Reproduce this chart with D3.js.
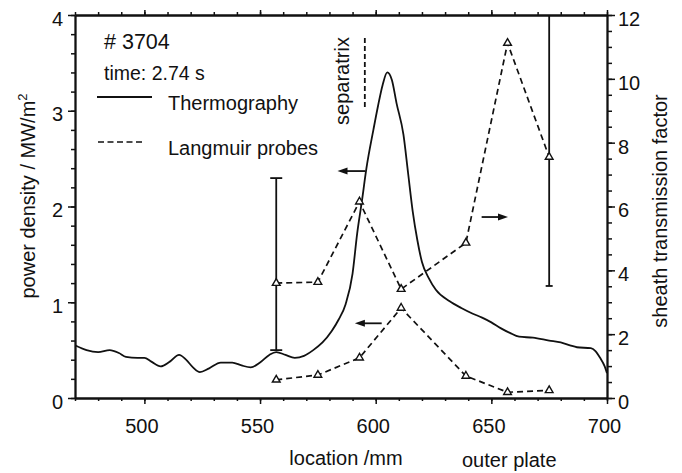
<!DOCTYPE html>
<html>
<head>
<meta charset="utf-8">
<script src="https://cdn.jsdelivr.net/npm/d3@7"></script>
<style>
  html, body { margin: 0; padding: 0; background: #fff; }
  svg { display: block; }
  text { font-family: "Liberation Sans", Arial, Helvetica, sans-serif; fill: #111; }
</style>
</head>
<body>
<svg id="chart" width="682" height="473"></svg>
<script>
// ---------- data ----------
const xTicks = [500, 550, 600, 650, 700];
const leftTicks = [0, 1, 2, 3, 4];
const rightTicks = [0, 2, 4, 6, 8, 10, 12];

// Thermography (power density, MW/m^2) vs location (mm)
const thermoLocation = [470,475,480,485,489,492,497,500,503,507,511,515,518,521,524,528,533,538,542,546,550,554,557,561,565,569,573,577,581,584,587,590,592,594,596,599,601,603,605,607,609,612,614,616,618,620,623,626,632,637,642,646,650,654,658,662,668,675,680,684,687,693,695,697,699,700];
const thermoPower    = [0.55,0.50,0.48,0.50,0.47,0.43,0.42,0.42,0.38,0.33,0.38,0.45,0.40,0.32,0.27,0.31,0.37,0.37,0.34,0.32,0.37,0.45,0.48,0.45,0.42,0.44,0.50,0.58,0.70,0.82,0.98,1.30,1.72,2.05,2.40,2.80,3.05,3.27,3.40,3.32,3.08,2.75,2.35,1.95,1.65,1.42,1.25,1.13,1.01,0.94,0.88,0.84,0.79,0.73,0.68,0.64,0.63,0.60,0.58,0.55,0.53,0.52,0.49,0.42,0.33,0.26];

// Langmuir probes
const probeLocation = [557, 575, 593, 611, 639, 657, 675];
const probePower    = [0.19, 0.24, 0.42, 0.94, 0.23, 0.06, 0.08];   // left axis
const probeSheath   = [3.60, 3.63, 6.15, 3.41, 4.86, 11.12, 7.55];  // right axis

// error bars (sheath transmission factor, right axis)
const errLocation = [557, 675];
const errLow      = [1.50, 3.51];
const errHigh     = [6.89, 12];
const errCapped   = [true, false];

// annotations
const separatrixLocation = 595.3;
const separatrixRange = [3.04, 3.79];   // left axis units
const arrowStart = [595.5, 602.6, 645.8];
const arrowEnd   = [583.5, 591.0, 657.2];
const arrowLevel = [2.37, 0.78, 5.67];
const arrowAxis  = ["left", "left", "right"];

// ---------- layout ----------
const svg = d3.select("#chart");
const L = 75, R = 607, T = 15, B = 398;

const x = d3.scaleLinear().domain([470, 700]).range([L, R]);
const yL = d3.scaleLinear().domain([0, 4]).range([B, T]);
const yR = d3.scaleLinear().domain([0, 12]).range([B, T]);

const FS = 20;
const INK = "#111";
const SW = 1.8;

function styleAxis(g) {
  g.selectAll(".domain").attr("stroke", INK).attr("stroke-width", SW);
  g.selectAll(".tick line").attr("stroke", INK).attr("stroke-width", 1.5);
  g.selectAll(".tick text").attr("font-size", FS).attr("fill", INK)
    .attr("font-family", '"Liberation Sans", Arial, sans-serif');
}

const xMinor = d3.range(470, 701, 10);
const lMinor = d3.range(0, 4.01, 0.2);
const rMinor = d3.range(0, 12.01, 0.5);

// bottom axis
svg.append("g").attr("transform", `translate(0,${B})`)
  .call(d3.axisBottom(x).tickValues(xMinor).tickSize(3).tickSizeOuter(0).tickFormat(""))
  .call(styleAxis);
svg.append("g").attr("transform", `translate(0,${B})`)
  .call(d3.axisBottom(x).tickValues(xTicks).tickSize(6).tickSizeOuter(0).tickPadding(15).tickFormat(d3.format("d")))
  .call(styleAxis)
  .call(g => g.selectAll(".tick text").attr("dx", -3));

// top axis
svg.append("g").attr("transform", `translate(0,${T})`)
  .call(d3.axisTop(x).tickValues(xMinor).tickSize(3).tickSizeOuter(0).tickFormat(""))
  .call(styleAxis);
svg.append("g").attr("transform", `translate(0,${T})`)
  .call(d3.axisTop(x).tickValues(xTicks).tickSize(5).tickSizeOuter(0).tickFormat(""))
  .call(styleAxis);

// left axis
svg.append("g").attr("transform", `translate(${L},0)`)
  .call(d3.axisLeft(yL).tickValues(lMinor).tickSize(4).tickSizeOuter(0).tickFormat(""))
  .call(styleAxis);
svg.append("g").attr("transform", `translate(${L},0)`)
  .call(d3.axisLeft(yL).tickValues(leftTicks).tickSize(7).tickSizeOuter(0).tickPadding(5).tickFormat(d3.format("d")))
  .call(styleAxis)
  .call(g => g.selectAll(".tick text").attr("dy", "0.5em"));

// right axis
svg.append("g").attr("transform", `translate(${R},0)`)
  .call(d3.axisRight(yR).tickValues(rMinor).tickSize(5).tickSizeOuter(0).tickFormat(""))
  .call(styleAxis);
svg.append("g").attr("transform", `translate(${R},0)`)
  .call(d3.axisRight(yR).tickValues(rightTicks).tickSize(8).tickSizeOuter(0).tickPadding(3).tickFormat(d3.format("d")))
  .call(styleAxis)
  .call(g => g.selectAll(".tick text").attr("dy", "0.52em"));

// ---------- clip ----------
svg.append("clipPath").attr("id", "plotclip")
  .append("rect").attr("x", L).attr("y", T).attr("width", R - L).attr("height", B - T);
const plot = svg.append("g").attr("clip-path", "url(#plotclip)");

// thermography curve
const thermo = thermoLocation.map((d, i) => [d, thermoPower[i]]);
plot.append("path")
  .datum(thermo)
  .attr("fill", "none").attr("stroke", INK).attr("stroke-width", SW)
  .attr("d", d3.line().x(d => x(d[0])).y(d => yL(d[1])).curve(d3.curveMonotoneX));

// error bars
errLocation.forEach((loc, i) => {
  const cx = x(loc);
  plot.append("line").attr("x1", cx).attr("x2", cx)
    .attr("y1", yR(errLow[i])).attr("y2", yR(errHigh[i]))
    .attr("stroke", INK).attr("stroke-width", SW);
  const capW = errCapped[i] ? 6 : 3.5;
  plot.append("line").attr("x1", cx - capW).attr("x2", cx + capW)
    .attr("y1", yR(errLow[i])).attr("y2", yR(errLow[i]))
    .attr("stroke", INK).attr("stroke-width", SW);
  if (errCapped[i]) {
    plot.append("line").attr("x1", cx - capW).attr("x2", cx + capW)
      .attr("y1", yR(errHigh[i])).attr("y2", yR(errHigh[i]))
      .attr("stroke", INK).attr("stroke-width", SW);
  }
});

// Langmuir probes: power density (left axis) and sheath factor (right axis)
const probesPow = probeLocation.map((d, i) => [d, probePower[i]]);
const probesSh = probeLocation.map((d, i) => [d, probeSheath[i]]);

plot.append("path").datum(probesPow)
  .attr("fill", "none").attr("stroke", INK).attr("stroke-width", 1.7)
  .attr("stroke-dasharray", "6,4")
  .attr("d", d3.line().x(d => x(d[0])).y(d => yL(d[1])));
plot.append("path").datum(probesSh)
  .attr("fill", "none").attr("stroke", INK).attr("stroke-width", 1.7)
  .attr("stroke-dasharray", "6,4")
  .attr("d", d3.line().x(d => x(d[0])).y(d => yR(d[1])));

const tri = d3.symbol().type(d3.symbolTriangle).size(26);
plot.selectAll(".mPow").data(probesPow).join("path")
  .attr("d", tri).attr("transform", d => `translate(${x(d[0])},${yL(d[1])})`)
  .attr("fill", "#fff").attr("stroke", INK).attr("stroke-width", 1.4);
plot.selectAll(".mSh").data(probesSh).join("path")
  .attr("d", tri).attr("transform", d => `translate(${x(d[0])},${yR(d[1])})`)
  .attr("fill", "#fff").attr("stroke", INK).attr("stroke-width", 1.4);

// separatrix
plot.append("line")
  .attr("x1", x(separatrixLocation)).attr("x2", x(separatrixLocation))
  .attr("y1", yL(separatrixRange[0])).attr("y2", yL(separatrixRange[1]))
  .attr("stroke", INK).attr("stroke-width", SW).attr("stroke-dasharray", "5,3");
svg.append("text")
  .attr("transform", `translate(${x(separatrixLocation) - 15.5},${yL(separatrixRange[0]) + 18}) rotate(-90)`)
  .attr("font-size", FS).text("separatrix");

// arrows
arrowStart.forEach((s, i) => {
  const ys = arrowAxis[i] === "left" ? yL : yR;
  const yy = ys(arrowLevel[i]);
  const x1 = x(s), x2 = x(arrowEnd[i]);
  const dir = Math.sign(x2 - x1);
  plot.append("line").attr("x1", x1).attr("x2", x2 - dir * 6)
    .attr("y1", yy).attr("y2", yy)
    .attr("stroke", INK).attr("stroke-width", SW);
  plot.append("path")
    .attr("d", `M${x2},${yy} L${x2 - dir * 10},${yy - 3.5} L${x2 - dir * 10},${yy + 3.5} Z`)
    .attr("fill", INK);
});

// ---------- texts ----------
svg.append("text").attr("x", 104).attr("y", 49).attr("font-size", 21.5).text("# 3704");
svg.append("text").attr("x", 104).attr("y", 80).attr("font-size", 19.5).text("time: 2.74 s");

// legend
svg.append("line").attr("x1", 97).attr("x2", 152).attr("y1", 97).attr("y2", 97)
  .attr("stroke", INK).attr("stroke-width", SW);
svg.append("text").attr("x", 168).attr("y", 110).attr("font-size", FS).text("Thermography");
svg.append("line").attr("x1", 98).attr("x2", 145).attr("y1", 142).attr("y2", 142)
  .attr("stroke", INK).attr("stroke-width", 1.7).attr("stroke-dasharray", "6,3.5");
svg.append("text").attr("x", 168).attr("y", 155).attr("font-size", FS).text("Langmuir probes");

// axis titles
const lt = svg.append("text")
  .attr("transform", "translate(35,196) rotate(-90)")
  .attr("text-anchor", "middle").attr("font-size", FS);
lt.append("tspan").text("power density / MW/m");
lt.append("tspan").attr("font-size", 13).attr("dy", -8).text("2");

svg.append("text")
  .attr("transform", "translate(667,211) rotate(-90)")
  .attr("text-anchor", "middle").attr("font-size", FS).text("sheath transmission factor");

svg.append("text").attr("x", 346).attr("y", 465).attr("text-anchor", "middle")
  .attr("font-size", FS).text("location /mm");
svg.append("text").attr("x", 462).attr("y", 467)
  .attr("font-size", FS).text("outer plate");
</script>
</body>
</html>
